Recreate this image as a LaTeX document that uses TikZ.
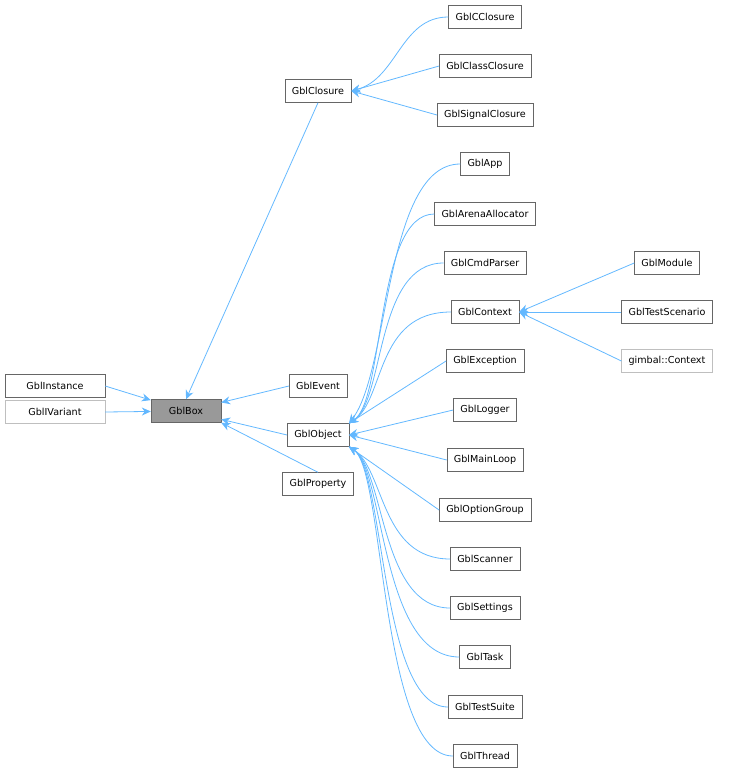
\documentclass[tikz,border=0pt]{standalone}
\usepackage{fontspec}
\setmainfont{DejaVu Sans}
\usetikzlibrary{arrows.meta}
\definecolor{edgeColor}{HTML}{63B8FF}
\colorlet{boxLine}{black!60}
\tikzset{cls/.style={draw=boxLine, fill=white, font=\fontsize{9.6}{11}\selectfont, inner xsep=7pt, minimum height=23pt, inner ysep=0pt},
  ext/.style={cls, draw=black!25},
  inh/.style={{Stealth[length=9pt,width=8pt]}-, edgeColor, line width=0.8pt}}
\begin{document}
\begin{tikzpicture}[x=1pt,y=-1pt]
\useasboundingbox (0,0) rectangle (736,776);
% left part
\node[cls, minimum width=100pt] (inst) at (55,386) {GblInstance};
\node[ext, minimum width=100pt] (ivar) at (55,412) {GblIVariant};
\node[cls, fill=black!40, minimum width=70pt] (box) at (186,411) {GblBox};
% middle column
\node[cls] (clo) at (318,91) {GblClosure};
\node[cls] (evt) at (318,386) {GblEvent};
\node[cls] (obj) at (318,435) {GblObject};
\node[cls] (prop) at (318,484) {GblProperty};
% closures
\node[cls] (cclo) at (485,17) {GblCClosure};
\node[cls] (kclo) at (485,66) {GblClassClosure};
\node[cls] (sclo) at (485,115) {GblSignalClosure};
% objects
\node[cls] (app) at (485,164) {GblApp};
\node[cls] (arena) at (485,214) {GblArenaAllocator};
\node[cls] (cmd) at (485,263) {GblCmdParser};
\node[cls] (ctx) at (485,312) {GblContext};
\node[cls] (exc) at (485,361) {GblException};
\node[cls] (log) at (485,410) {GblLogger};
\node[cls] (loop) at (485,460) {GblMainLoop};
\node[cls] (opt) at (485,510) {GblOptionGroup};
\node[cls] (scan) at (485,559) {GblScanner};
\node[cls] (set) at (485,608) {GblSettings};
\node[cls] (task) at (485,657) {GblTask};
\node[cls] (suite) at (485,707) {GblTestSuite};
\node[cls] (thr) at (485,756) {GblThread};
% context children
\node[cls] (mod) at (667,263) {GblModule};
\node[cls] (scen) at (667,312) {GblTestScenario};
\node[ext] (gctx) at (667,361) {gimbal::Context};

\draw[inh] (box) -- (inst.east);
\draw[inh] (box) -- (ivar.east);
\draw[inh] (box.north) -- (clo.south);
\draw[inh] (box) -- (evt.west);
\draw[inh] (box) -- (obj.west);
\draw[inh] (box.south east) -- (prop.north);
\draw[inh] (clo.east) to[out=15,in=180] (cclo.west);
\draw[inh] (clo.east) -- (kclo.west);
\draw[inh] (clo.east) -- (sclo.west);
\draw[inh] (ctx.east) -- (mod.west);
\draw[inh] (ctx.east) -- (scen.west);
\draw[inh] (ctx.east) -- (gctx.west);
% straight ones
\draw[inh] (obj.north east) -- (exc.west);
\draw[inh] (obj.east) -- (log.west);
\draw[inh] (obj.east) -- (loop.west);
\draw[inh] (obj.south east) -- (opt.west);
% curved ones
\foreach \c in {arena,cmd,ctx}
  \draw[inh] (obj.north east) .. controls (385,400) and (375,0 |- \c) .. (\c.west);
\draw[inh] (obj.north east) .. controls (390,370) and (385,164) .. (app.west);
\foreach \c in {scan,set,task,suite,thr}
  \draw[inh] (obj.south east) .. controls (385,470) and (380,0 |- \c) .. (\c.west);
\end{tikzpicture}
\end{document}
